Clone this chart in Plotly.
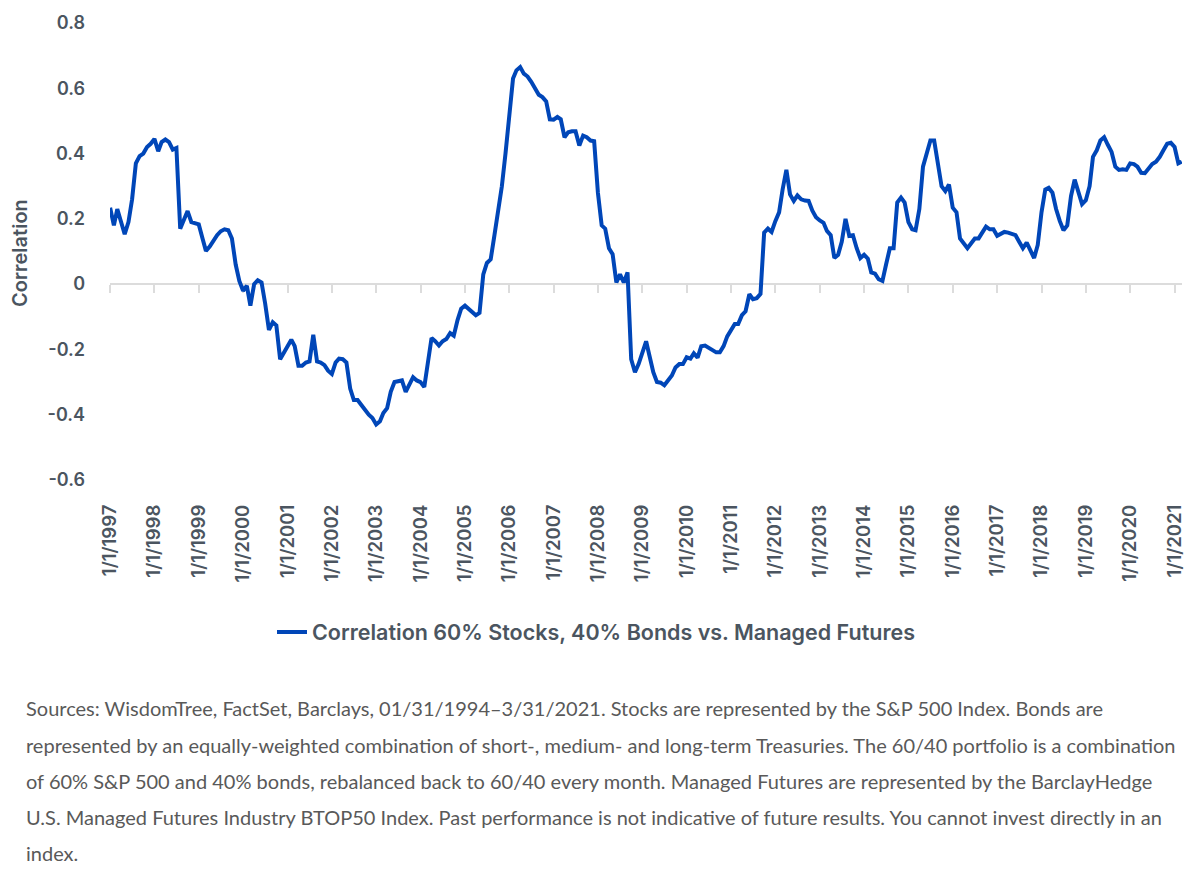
import plotly.graph_objects as go
import pandas as pd

# Monthly correlation values, Jan 1997 - Mar 2021
start_month = "1997-01-01"
corr_values = [
    # 1997
    0.234, 0.18, 0.23, 0.195, 0.153, 0.19, 0.26, 0.37, 0.392, 0.40, 0.42, 0.43,
    # 1998
    0.445, 0.407, 0.435, 0.443, 0.435, 0.412, 0.417, 0.17, 0.20, 0.224, 0.19, 0.186,
    # 1999
    0.183, 0.14, 0.102, 0.115, 0.135, 0.15, 0.162, 0.168, 0.165, 0.14, 0.06, 0.01,
    # 2000
    -0.02, -0.005, -0.066, 0.0, 0.012, 0.005, -0.06, -0.14, -0.117, -0.127, -0.23, -0.21,
    # 2001
    -0.188, -0.17, -0.19, -0.25, -0.25, -0.24, -0.237, -0.155, -0.237, -0.24, -0.248, -0.265,
    # 2002
    -0.275, -0.24, -0.228, -0.23, -0.24, -0.32, -0.355, -0.355, -0.37, -0.385, -0.40, -0.41,
    # 2003
    -0.43, -0.42, -0.395, -0.38, -0.33, -0.30, -0.298, -0.295, -0.33, -0.31, -0.285, -0.295,
    # 2004
    -0.30, -0.315, -0.25, -0.165, -0.175, -0.188, -0.175, -0.168, -0.15, -0.158, -0.11, -0.075,
    # 2005
    -0.066, -0.075, -0.085, -0.095, -0.088, 0.03, 0.065, 0.076, 0.15, 0.225, 0.30, 0.40,
    # 2006
    0.52, 0.63, 0.655, 0.665, 0.645, 0.636, 0.62, 0.60, 0.58, 0.573, 0.56, 0.505,
    # 2007
    0.504, 0.512, 0.505, 0.45, 0.465, 0.468, 0.468, 0.425, 0.455, 0.45, 0.44, 0.438,
    # 2008
    0.28, 0.18, 0.17, 0.11, 0.092, 0.005, 0.03, 0.005, 0.036, -0.23, -0.27, -0.245,
    # 2009
    -0.205, -0.175, -0.22, -0.27, -0.30, -0.302, -0.31, -0.295, -0.28, -0.255, -0.245, -0.245,
    # 2010
    -0.224, -0.228, -0.212, -0.225, -0.19, -0.188, -0.195, -0.205, -0.209, -0.209, -0.19, -0.16,
    # 2011
    -0.14, -0.122, -0.122, -0.095, -0.083, -0.031, -0.046, -0.043, -0.03, 0.158, 0.17, 0.16,
    # 2012
    0.193, 0.22, 0.29, 0.35, 0.275, 0.255, 0.272, 0.26, 0.256, 0.255, 0.225, 0.205,
    # 2013
    0.195, 0.188, 0.163, 0.15, 0.08, 0.09, 0.13, 0.20, 0.148, 0.15, 0.11, 0.08,
    # 2014
    0.09, 0.078, 0.036, 0.032, 0.015, 0.01, 0.06, 0.11, 0.11, 0.25, 0.265, 0.25,
    # 2015
    0.19, 0.168, 0.165, 0.23, 0.36, 0.405, 0.44, 0.44, 0.36, 0.30, 0.285, 0.305,
    # 2016
    0.234, 0.22, 0.14, 0.127, 0.11, 0.125, 0.14, 0.14, 0.16, 0.176, 0.168, 0.168,
    # 2017
    0.148, 0.155, 0.16, 0.158, 0.153, 0.15, 0.13, 0.11, 0.127, 0.10, 0.08, 0.12,
    # 2018
    0.22, 0.29, 0.295, 0.28, 0.23, 0.193, 0.165, 0.18, 0.27, 0.32, 0.28, 0.245,
    # 2019
    0.257, 0.30, 0.39, 0.41, 0.44, 0.45, 0.427, 0.405, 0.36, 0.35, 0.352, 0.35,
    # 2020
    0.37, 0.368, 0.36, 0.341, 0.34, 0.355, 0.368, 0.375, 0.39, 0.41, 0.43, 0.433,
    # 2021
    0.42, 0.37, 0.375,
]

tick_years = list(range(1997, 2022))
tick_dates = [f"{y}-01-01" for y in tick_years]
tick_labels = [f"1/1/{y}" for y in tick_years]

y_tick_vals = [0.8, 0.6, 0.4, 0.2, 0, -0.2, -0.4, -0.6]
y_tick_text = ["0.8", "0.6", "0.4", "0.2", "0", "-0.2", "-0.4", "-0.6"]

y_title = "Correlation"
series_name = "Correlation 60% Stocks, 40% Bonds vs. Managed Futures"

footnote_lines = [
    "Sources: WisdomTree, FactSet, Barclays, 01/31/1994–3/31/2021. Stocks are represented by the S&P 500 Index. Bonds are",
    "represented by an equally-weighted combination of short-, medium- and long-term Treasuries. The 60/40 portfolio is a combination",
    "of 60% S&P 500 and 40% bonds, rebalanced back to 60/40 every month. Managed Futures are represented by the BarclayHedge",
    "U.S. Managed Futures Industry BTOP50 Index. Past performance is not indicative of future results. You cannot invest directly in an",
    "index.",
]

dates = pd.date_range(start_month, periods=len(corr_values), freq="MS")

LINE_COLOR = "#0046b8"
TEXT_COLOR = "#4b5560"
AXIS_GRAY = "#dcdcdc"
FONT = "Inter"

# page body adds an 8px offset; figure coordinates are screen minus 8
OFF = 8
W, H = 1200 - OFF, 891 - OFF
ml, mr, mt, mb = 110 - OFF, 18, 23 - OFF, 411
plot_w = W - ml - mr
plot_h = H - mt - mb
y_min, y_max = -0.6, 0.8


def px_to_paper_x(px):
    return (px - OFF - ml) / plot_w


def px_to_paper_y(py):
    return (mt + plot_h - (py - OFF)) / plot_h


fig = go.Figure()

# helper (invisible) trace for the bottom labelled axis
fig.add_trace(go.Scatter(
    x=dates, y=corr_values, xaxis="x", yaxis="y",
    mode="lines", line=dict(width=0, color="rgba(0,0,0,0)"),
    showlegend=False, hoverinfo="skip",
))
# main line on the zero-positioned axis
fig.add_trace(go.Scatter(
    x=dates, y=corr_values, xaxis="x2", yaxis="y",
    mode="lines", name=series_name,
    line=dict(color=LINE_COLOR, width=4),
))

x_range = [dates[0] - pd.Timedelta(days=1), dates[-1] + pd.Timedelta(days=2)]

fig.update_layout(
    width=W, height=H,
    margin=dict(l=ml, r=mr, t=mt, b=mb),
    paper_bgcolor="white", plot_bgcolor="white",
    font=dict(family=FONT, color=TEXT_COLOR),
    xaxis=dict(
        range=x_range, tickmode="array", tickvals=tick_dates, ticktext=tick_labels,
        tickangle=-90, showgrid=False, zeroline=False, showline=False,
        ticks="", ticklabelstandoff=20, automargin=False,
        tickfont=dict(family=FONT, size=18.5, color=TEXT_COLOR, weight=600),
    ),
    xaxis2=dict(
        range=x_range, overlaying="x", anchor="free",
        position=(0 - y_min) / (y_max - y_min),
        tickmode="array", tickvals=tick_dates, showticklabels=False,
        showline=True, linecolor=AXIS_GRAY, linewidth=2,
        ticks="outside", ticklen=8, tickcolor=AXIS_GRAY, tickwidth=2,
        showgrid=False, zeroline=False, layer="below traces", automargin=False,
    ),
    yaxis=dict(
        range=[y_min, y_max], tickmode="array", tickvals=y_tick_vals, ticktext=y_tick_text,
        showgrid=False, zeroline=False, showline=False, ticks="",
        ticklabelstandoff=24, automargin=False,
        tickfont=dict(family=FONT, size=18, color=TEXT_COLOR, weight=600),
    ),
    legend=dict(
        orientation="h", x=px_to_paper_x(272), xanchor="left",
        y=px_to_paper_y(632), yanchor="middle",
        font=dict(family=FONT, size=21.5, color=TEXT_COLOR, weight=600),
        bgcolor="rgba(0,0,0,0)",
    ),
)

# y-axis title
fig.add_annotation(
    text=y_title, xref="paper", yref="paper",
    x=px_to_paper_x(20), y=px_to_paper_y(253),
    xanchor="center", yanchor="middle", textangle=-90, showarrow=False,
    font=dict(family=FONT, size=20, color=TEXT_COLOR, weight=600),
)

line_ys = [708, 745, 781, 817, 853]
for txt, py in zip(footnote_lines, line_ys):
    fig.add_annotation(
        text=txt, xref="paper", yref="paper",
        x=px_to_paper_x(24), y=px_to_paper_y(py),
        xanchor="left", yanchor="middle", showarrow=False,
        font=dict(family="Lato", size=20, color="#595959"),
    )

fig.write_html("out.html")
